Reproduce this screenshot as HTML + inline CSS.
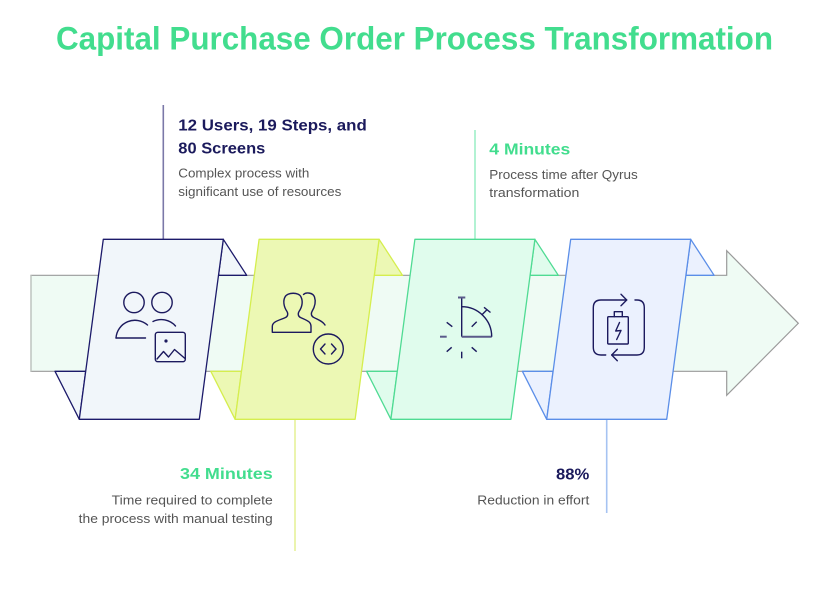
<!DOCTYPE html>
<html>
<head>
<meta charset="utf-8">
<style>
html,body{margin:0;padding:0;background:#ffffff;}
body{width:828px;height:600px;overflow:hidden;}
svg{display:block;}
text{font-family:"Liberation Sans",sans-serif;}
</style>
</head>
<body>
<svg width="828" height="600" viewBox="0 0 828 600" xmlns="http://www.w3.org/2000/svg">
  <rect x="0" y="0" width="828" height="600" fill="#ffffff"/>

  <!-- Title -->
  <text x="56" y="49.3" font-size="32" font-weight="bold" fill="#42dd8e" textLength="717" lengthAdjust="spacingAndGlyphs">Capital Purchase Order Process Transformation</text>

  <!-- Vertical connector lines -->
  <line x1="163.3" y1="105" x2="163.3" y2="240" stroke="#7b78a8" stroke-width="1.6"/>
  <line x1="475" y1="130" x2="475" y2="240" stroke="#9eeec8" stroke-width="1.6"/>
  <line x1="295" y1="419" x2="295" y2="551" stroke="#e6f29a" stroke-width="1.6"/>
  <line x1="606.7" y1="419" x2="606.7" y2="513" stroke="#a6c3f2" stroke-width="1.6"/>

  <!-- Big arrow band -->
  <polygon points="31,275.3 726.7,275.3 726.7,250.7 798.3,323.3 726.7,395.3 726.7,371.3 31,371.3" fill="#effbf4" stroke="#9a9a9a" stroke-width="1.2"/>
  <line x1="31" y1="275.3" x2="31" y2="371.3" stroke="#c4cbc6" stroke-width="1.5"/>

  <!-- Card 1 -->
  <g fill="#f1f6fa" stroke="#1c1a6a" stroke-width="1.3" stroke-linejoin="round">
    <polygon points="223.3,239.3 246.7,275.3 218.5,275.3"/>
    <polygon points="55,371.3 79.3,419.3 85.7,371.3"/>
    <polygon points="103.3,239.3 223.3,239.3 199.3,419.3 79.3,419.3"/>
  </g>
  <!-- Card 2 -->
  <g fill="#ecf8b4" stroke="#d5ee4e" stroke-width="1.3" stroke-linejoin="round">
    <polygon points="379.1,239.3 402.5,275.3 374.3,275.3"/>
    <polygon points="210.8,371.3 235.1,419.3 241.5,371.3"/>
    <polygon points="259.1,239.3 379.1,239.3 355.1,419.3 235.1,419.3"/>
  </g>
  <!-- Card 3 -->
  <g fill="#e0fced" stroke="#4fdb93" stroke-width="1.3" stroke-linejoin="round">
    <polygon points="534.9,239.3 558.3,275.3 530.1,275.3"/>
    <polygon points="366.6,371.3 390.9,419.3 397.3,371.3"/>
    <polygon points="414.9,239.3 534.9,239.3 510.9,419.3 390.9,419.3"/>
  </g>
  <!-- Card 4 -->
  <g fill="#ebf1fe" stroke="#5b8ee8" stroke-width="1.3" stroke-linejoin="round">
    <polygon points="690.7,239.3 714.1,275.3 685.9,275.3"/>
    <polygon points="522.4,371.3 546.7,419.3 553.1,371.3"/>
    <polygon points="570.7,239.3 690.7,239.3 666.7,419.3 546.7,419.3"/>
  </g>

  <!-- Icon 1: users + image -->
  <g fill="none" stroke="#1c1a5e" stroke-width="1.4" stroke-linecap="round" stroke-linejoin="round">
    <circle cx="134" cy="302.5" r="10.2"/>
    <circle cx="162" cy="302.5" r="10.2"/>
    <path d="M116,338 A19,19 0 0 1 147.5,325"/>
    <line x1="116" y1="338" x2="145.5" y2="338"/>
    <path d="M153,321.5 A19,19 0 0 1 175.5,326"/>
    <rect x="155.3" y="332.3" width="30" height="29.4" rx="2.5"/>
    <circle cx="166" cy="341" r="0.9" fill="#1c1a5e"/>
    <path d="M157,359 L163.5,351.5 L168.5,357 L174.5,349.5 L185,358.5"/>
  </g>

  <!-- Icon 2: users + code -->
  <g fill="none" stroke="#1c1a5e" stroke-width="1.4" stroke-linecap="round" stroke-linejoin="round">
    <path d="M272.3,332.3 L272.3,326.5 C272.3,321.5 279,320.5 285.5,317.5 C288,316.3 288.3,313.5 287,311.5 C283.5,306.5 283,300.5 285,297 C287.5,292 299,292 301,297 C303,301 302.5,306.5 299,311.5 C297.7,313.5 298,316.3 300.5,317.5 C307,320.5 311,321.5 311,326.5 L311,332.3 Z"/>
    <path d="M303.5,294.5 C306,292 313,292.5 314.5,297 C316,301.5 315,306.5 312,311.5 C310.8,313.5 311.2,316 313.5,317.3 C318,319.8 322.5,321 325,325"/>
    <circle cx="328.3" cy="349" r="15"/>
    <polyline points="325,344 320.5,349 325,354"/>
    <polyline points="331.5,344 336,349 331.5,354"/>
  </g>

  <!-- Icon 3: stopwatch / gauge -->
  <g fill="none" stroke="#1c1a5e" stroke-width="1.4" stroke-linecap="butt">
    <line x1="461.7" y1="297.3" x2="461.7" y2="336.7"/>
    <line x1="458" y1="297.5" x2="465.3" y2="297.5" stroke="#5a5a8a" stroke-width="2"/>
    <line x1="461.7" y1="336.7" x2="491.7" y2="336.7" stroke="#5a5a8a" stroke-width="2"/>
    <path d="M461.7,306.7 A30,30 0 0 1 491.7,336.7"/>
    <line x1="481.7" y1="315" x2="486.7" y2="310"/>
    <line x1="484" y1="307.3" x2="490.5" y2="312.5"/>
    <line x1="440" y1="336.7" x2="446.7" y2="336.7" stroke="#5a5a8a" stroke-width="2"/>
    <line x1="446.7" y1="322.3" x2="452.3" y2="326.7"/>
    <line x1="471.7" y1="326.7" x2="476.7" y2="321.7"/>
    <line x1="446.7" y1="351.7" x2="451.7" y2="347.3"/>
    <line x1="461.7" y1="351.7" x2="461.7" y2="358.3"/>
    <line x1="471.7" y1="347.3" x2="476.7" y2="351.7"/>
  </g>

  <!-- Icon 4: battery with cycle arrows -->
  <g fill="none" stroke="#1c1a5e" stroke-width="1.4" stroke-linecap="round" stroke-linejoin="round">
    <path d="M626.7,300 L601,300 Q593.3,300 593.3,307.7 L593.3,347.3 Q593.3,355 601,355 L605.7,355"/>
    <polyline points="621,294.3 626.7,300 621,305.7"/>
    <path d="M635,300 L637,300 Q644.3,300 644.3,307.7 L644.3,347.3 Q644.3,355 637,355 L611.7,355"/>
    <polyline points="617.3,349.3 611.7,355 617.3,360.7"/>
    <rect x="607.7" y="316.7" width="20.6" height="27.3" rx="1"/>
    <polyline points="614.3,316.7 614.3,311.7 622.3,311.7 622.3,316.7"/>
    <polyline points="619.5,322.5 615.7,331 621,330.5 616.7,339.5"/>
  </g>

  <!-- Block 1 text -->
  <text x="178.3" y="130.7" font-size="15.5" font-weight="bold" fill="#1b1a5c" textLength="188.5" lengthAdjust="spacingAndGlyphs">12 Users, 19 Steps, and</text>
  <text x="178.3" y="153.5" font-size="15.5" font-weight="bold" fill="#1b1a5c" textLength="87" lengthAdjust="spacingAndGlyphs">80 Screens</text>
  <text x="178.3" y="177.5" font-size="12.5" fill="#555555" textLength="131" lengthAdjust="spacingAndGlyphs">Complex process with</text>
  <text x="178.3" y="196" font-size="12.5" fill="#555555" textLength="163" lengthAdjust="spacingAndGlyphs">significant use of resources</text>

  <!-- Block 3 text -->
  <text x="489.3" y="154.5" font-size="15.5" font-weight="bold" fill="#42dd8e" textLength="81" lengthAdjust="spacingAndGlyphs">4 Minutes</text>
  <text x="489.3" y="179" font-size="12.5" fill="#555555" textLength="148.5" lengthAdjust="spacingAndGlyphs">Process time after Qyrus</text>
  <text x="489.3" y="197" font-size="12.5" fill="#555555" textLength="90" lengthAdjust="spacingAndGlyphs">transformation</text>

  <!-- Block 2 text (right aligned) -->
  <text x="272.7" y="479" font-size="15.5" font-weight="bold" fill="#42dd8e" text-anchor="end" textLength="92.7" lengthAdjust="spacingAndGlyphs">34 Minutes</text>
  <text x="272.7" y="504.5" font-size="12.5" fill="#555555" text-anchor="end" textLength="161" lengthAdjust="spacingAndGlyphs">Time required to complete</text>
  <text x="272.7" y="523" font-size="12.5" fill="#555555" text-anchor="end" textLength="194" lengthAdjust="spacingAndGlyphs">the process with manual testing</text>

  <!-- Block 4 text (right aligned) -->
  <text x="589.3" y="479.3" font-size="15.5" font-weight="bold" fill="#1b1a5c" text-anchor="end" textLength="33.3" lengthAdjust="spacingAndGlyphs">88%</text>
  <text x="589.3" y="504.5" font-size="12.5" fill="#555555" text-anchor="end" textLength="112" lengthAdjust="spacingAndGlyphs">Reduction in effort</text>
</svg>
</body>
</html>
